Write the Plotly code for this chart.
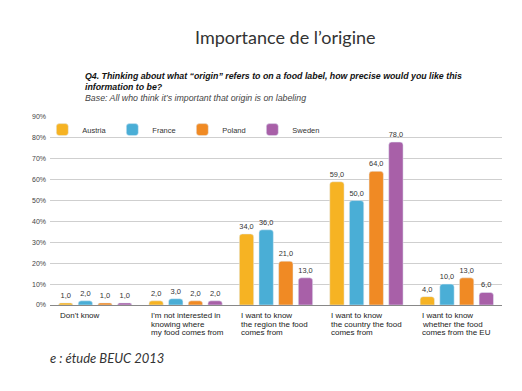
import plotly.graph_objects as go

categories = ["Don't know", "I'm not interested in knowing where my food comes from",
              "I want to know the region the food comes from",
              "I want to know the country the food comes from",
              "I want to know whether the food comes from the EU"]
cat_label_lines = [["Don't know"],
                   ["I'm not interested in", "knowing where", "my food comes from"],
                   ["I want to know", "the region the food", "comes from"],
                   ["I want to know", "the country the food", "comes from"],
                   ["I want to know", "whether the food", "comes from the EU"]]
series = ["Austria", "France", "Poland", "Sweden"]
austria = [1.0, 2.0, 34.0, 59.0, 4.0]
france = [2.0, 3.0, 36.0, 50.0, 10.0]
poland = [1.0, 2.0, 21.0, 64.0, 13.0]
sweden = [1.0, 2.0, 13.0, 78.0, 6.0]
y_ticks = [0, 10, 20, 30, 40, 50, 60, 70, 80, 90]
y_tick_labels = [f"{v}%" for v in y_ticks]

colors = ["#F6B323", "#4AAED6", "#F08A24", "#A860A8"]

fig = go.Figure()
for name, vals, col in zip(series, [austria, france, poland, sweden], colors):
    fig.add_trace(go.Bar(
        name=name, x=categories, y=vals, marker_color=col,
        text=[f"{v:.1f}".replace(".", ",") for v in vals],
        textposition="outside", cliponaxis=False,
        textfont=dict(size=7.5, color="#333333", family="Liberation Sans"),
    ))

# page body has an 8px margin: compensate in the figure margins
fig.update_layout(
    width=522, height=391,
    margin=dict(l=42, r=28, t=109, b=94),
    paper_bgcolor="white", plot_bgcolor="white",
    barmode="group", bargap=0.13, bargroupgap=0.27, barcornerradius=3,
    showlegend=True,
    legend=dict(orientation="h", x=-0.017, y=1.01, xanchor="left", yanchor="top",
                font=dict(size=7.5, color="#333333", family="Liberation Sans"),
                entrywidth=25, itemwidth=30, bgcolor="rgba(0,0,0,0)"),
    font=dict(family="Liberation Sans"),
)
fig.update_xaxes(showticklabels=False, showline=True, linecolor="#888888", linewidth=1,
                 showgrid=False, ticks="")
fig.update_yaxes(range=[0, 90], tickvals=y_ticks, ticktext=y_tick_labels,
                 showgrid=True, gridcolor="#CFCFCF", gridwidth=1, zeroline=False,
                 tickfont=dict(size=7, color="#444444"), ticks="", ticklabelstandoff=3)

for c, lines in zip(categories, cat_label_lines):
    for i, line in enumerate(lines):
        fig.add_annotation(x=c, y=0, xref="x", yref="y", text=line, showarrow=False,
                           xanchor="left", yanchor="top", align="left",
                           xshift=-37, yshift=-4 - 8.7 * i,
                           font=dict(size=8, color="#222222", family="Liberation Sans"))

fig.add_annotation(xref="paper", yref="paper", x=0.52, y=1.0, yshift=80,
                   text="Importance de l’origine", showarrow=False, xanchor="center",
                   yanchor="middle", font=dict(size=18, color="#333333", family="Lato"))
fig.add_annotation(xref="paper", yref="paper", x=0.073, y=1.0, yshift=23,
                   text="<b><i>Q4. Thinking about what “origin” refers to on a food label, how precise would you like this<br>information to be?</i></b>",
                   showarrow=False, xanchor="left", yanchor="bottom", align="left",
                   font=dict(size=8.8, color="#111111", family="Liberation Sans"))
fig.add_annotation(xref="paper", yref="paper", x=0.073, y=1.0, yshift=12,
                   text="<i>Base: All who think it’s important that origin is on labeling</i>",
                   showarrow=False, xanchor="left", yanchor="bottom", align="left",
                   font=dict(size=8.8, color="#444444", family="Liberation Sans"))
fig.add_annotation(xref="paper", yref="paper", x=-0.005, y=0, yshift=-53,
                   text="<i>e : étude BEUC 2013</i>", showarrow=False,
                   xanchor="left", yanchor="middle",
                   font=dict(size=13, color="#333333", family="Lato"))

fig.write_html("out.html")
